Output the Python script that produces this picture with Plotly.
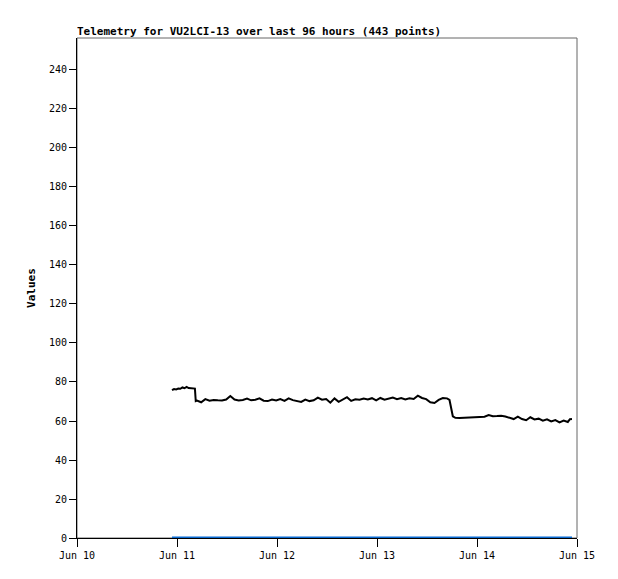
import pandas as pd
import plotly.graph_objects as go

# telemetry samples: hours after first sample, value
start = pd.Timestamp("2024-06-10 22:48")
hours = [0, 0.5, 1, 1.5, 2, 2.5, 3, 3.5, 4, 4.5, 5, 5.5,
         5.7, 6, 7, 8, 9, 10, 11, 12, 13, 14, 15, 16, 17, 18, 19, 20,
         21, 22, 23, 24, 25, 26, 27, 28, 29, 30, 31, 32, 33, 34, 35, 36,
         37, 38, 39, 40, 41, 42, 43, 44, 45, 46, 47, 48, 49, 50, 51, 52,
         53, 54, 55, 56, 57, 58, 59, 60, 61, 62, 63, 64, 65, 66, 66.6,
         67.4, 68, 69, 70, 71, 72, 73, 74, 75, 76, 77, 78, 79, 80, 81,
         82, 83, 84, 85, 86, 87, 88, 89, 90, 91, 92, 93, 94, 95, 95.5, 96]
values = [75.8, 76.4, 76.2, 76.6, 76.5, 77.2, 76.8, 77.5, 76.9, 76.7, 76.8, 76.6,
          70.2, 70.5, 69.6, 71.2, 70.4, 70.8, 70.6, 70.5, 71.0, 72.8, 71.0, 70.5,
          70.8, 71.5, 70.6, 70.9, 71.6, 70.4, 70.2, 71.0, 70.5, 71.2, 70.3, 71.6,
          70.7, 70.4, 69.8, 71.0, 70.2, 70.6, 72.0, 70.9, 71.3, 69.4, 71.6, 69.8,
          70.9, 72.2, 70.3, 71.1, 70.9, 71.5, 71.0, 71.7, 70.6, 71.8, 70.9, 71.4,
          72.0, 71.2, 71.8, 71.0, 71.6, 71.3, 73.0, 71.8, 71.2, 69.6, 69.2, 70.8,
          71.8, 71.6, 70.8, 62.4, 61.6, 61.5, 61.6, 61.8, 61.9, 62.0, 62.0, 62.2,
          63.0, 62.4, 62.5, 62.7, 62.3, 61.6, 61.0, 62.2, 61.0, 60.4, 61.9, 60.8,
          61.2, 60.2, 60.9, 59.8, 60.5, 59.3, 60.2, 59.5, 60.9, 61.0]
second = [0] * len(hours)

times = start + pd.to_timedelta(hours, unit="h")
tick_days = pd.date_range("2024-06-10", "2024-06-15", freq="D")
y_ticks = list(range(0, 241, 20))

mono = "DejaVu Sans Mono"

fig = go.Figure()
fig.add_trace(go.Scatter(x=times, y=values, mode="lines",
                         line=dict(color="black", width=2), showlegend=False))
fig.add_trace(go.Scatter(x=times, y=second, mode="lines", cliponaxis=False,
                         line=dict(color="#0a6ad2", width=3), showlegend=False))

fig.add_shape(type="rect", xref="paper", yref="paper", x0=0, y0=0, x1=1, y1=1,
              line=dict(color="#666666", width=1), layer="below")

# page body adds 8px margin, so offsets are relative to the figure
fig.update_layout(
    width=618, height=579,
    margin=dict(l=69, r=49, t=30, b=49),
    paper_bgcolor="white", plot_bgcolor="white",
    title=dict(text="Telemetry for VU2LCI-13 over last 96 hours (443 points)",
               x=69 / 618, xanchor="left", y=1 - 27 / 579, yanchor="bottom",
               font=dict(family=mono, size=11, color="black", weight="bold")),
    xaxis=dict(range=[tick_days[0], tick_days[-1]], tickvals=tick_days,
               tickformat="%b %d", showgrid=False, zeroline=False,
               showline=True, linecolor="black", linewidth=1, layer="below traces",
               ticks="outside", ticklen=8, tickcolor="black",
               tickfont=dict(family=mono, size=10, color="black")),
    yaxis=dict(range=[0, 256.4], tickvals=y_ticks, showgrid=False, zeroline=False,
               showline=True, linecolor="black", linewidth=1, layer="below traces",
               ticks="outside", ticklen=7, tickcolor="black",
               tickfont=dict(family=mono, size=10, color="black"),
               title=dict(text="Values", standoff=11,
                          font=dict(family=mono, size=11, color="black", weight="bold"))),
)

fig.write_html("out.html")
